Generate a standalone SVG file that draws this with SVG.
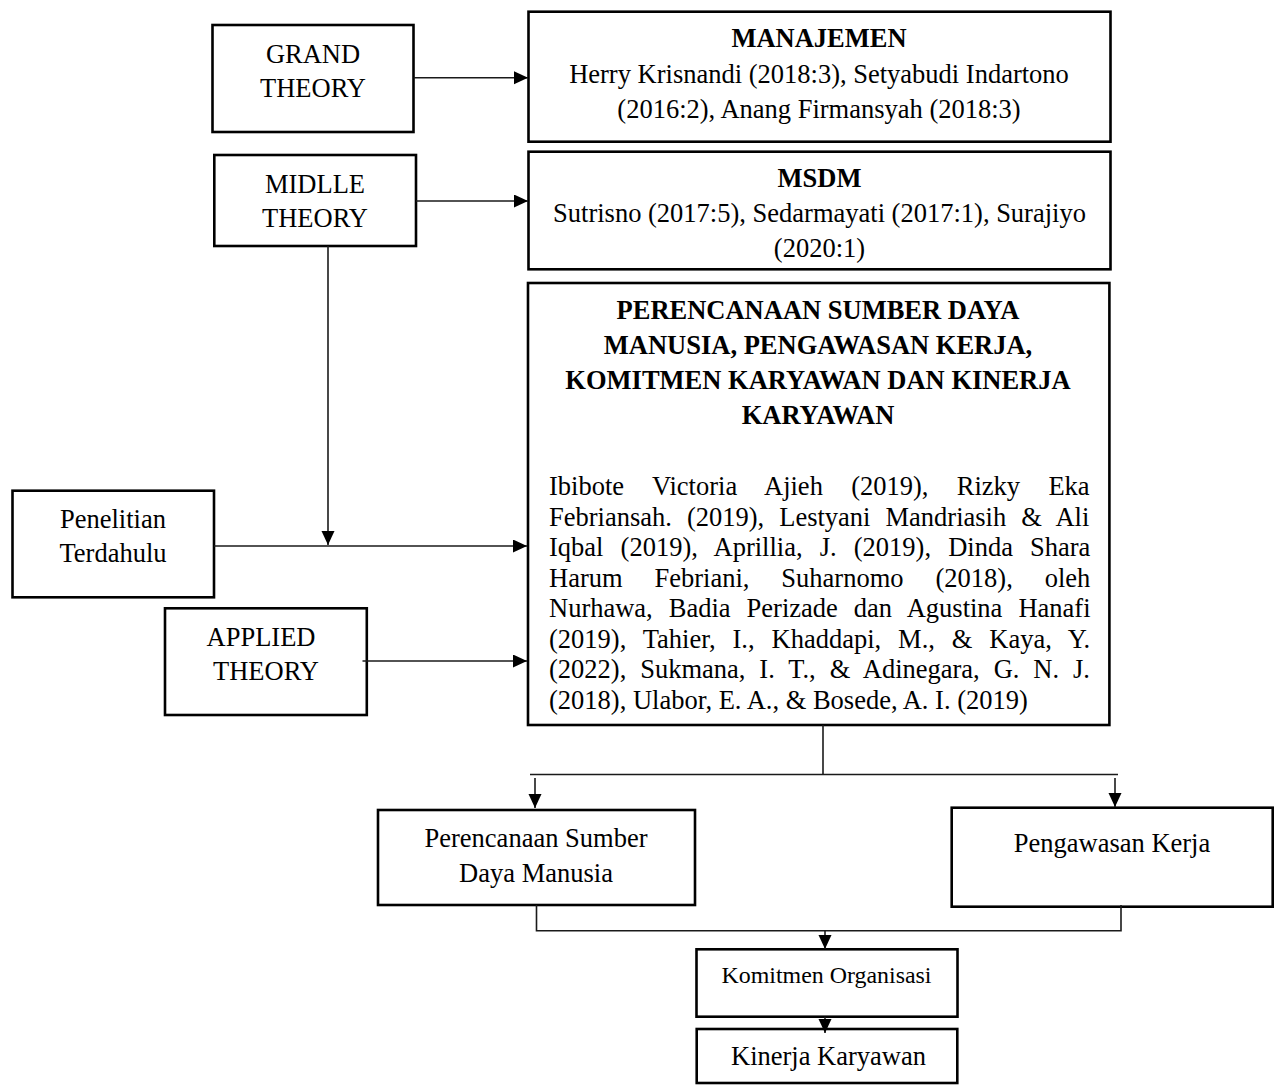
<svg xmlns="http://www.w3.org/2000/svg" width="1276" height="1086" viewBox="0 0 1276 1086">
<style>
.box{fill:#fff;stroke:#000;stroke-width:2.6}
.t{font-family:"Liberation Serif","Times New Roman",serif;font-size:26.5px;fill:#000}
.c{text-anchor:middle}
.b{font-weight:bold}
.con{fill:none;stroke:#1a1a1a;stroke-width:1.6}
</style>
<defs>
<marker id="ah" markerUnits="userSpaceOnUse" markerWidth="15" markerHeight="14" refX="14" refY="6.5" orient="auto">
<path d="M0,0 L14,6.5 L0,13 z" fill="#000"/>
</marker>
</defs>
<rect width="1276" height="1086" fill="#fff"/>

<g id="grand">
<rect class="box" x="212.5" y="25" width="201" height="107"/>
<text class="t c" x="313" y="62.7">GRAND</text>
<text class="t c" x="313" y="96.7">THEORY</text>
</g>
<g id="manajemen">
<rect class="box" x="528.5" y="11.7" width="582" height="130"/>
<text class="t c b" x="819" y="46.7">MANAJEMEN</text>
<text class="t c" x="819" y="82.7">Herry Krisnandi (2018:3), Setyabudi Indartono</text>
<text class="t c" x="819" y="118.3">(2016:2), Anang Firmansyah (2018:3)</text>
</g>
<g id="midlle">
<rect class="box" x="214.3" y="155" width="201.7" height="91"/>
<text class="t c" x="315" y="192.7">MIDLLE</text>
<text class="t c" x="315" y="226.7">THEORY</text>
</g>
<g id="msdm">
<rect class="box" x="528.5" y="151.7" width="582" height="117.6"/>
<text class="t c b" x="819.5" y="186.7">MSDM</text>
<text class="t c" x="819.5" y="221.7">Sutrisno (2017:5), Sedarmayati (2017:1), Surajiyo</text>
<text class="t c" x="819.5" y="256.7">(2020:1)</text>
</g>
<g id="main">
<rect class="box" x="528" y="283" width="581.4" height="442"/>
<text class="t c b" x="818" y="319">PERENCANAAN SUMBER DAYA</text>
<text class="t c b" x="818" y="354">MANUSIA, PENGAWASAN KERJA,</text>
<text class="t c b" x="818" y="388.5">KOMITMEN KARYAWAN DAN KINERJA</text>
<text class="t c b" x="818" y="424">KARYAWAN</text>
<text class="t" x="549" y="495" word-spacing="21.7">Ibibote Victoria Ajieh (2019), Rizky Eka</text>
<text class="t" x="549" y="525.5" word-spacing="8.4">Febriansah. (2019), Lestyani Mandriasih &amp; Ali</text>
<text class="t" x="549" y="556" word-spacing="10.5">Iqbal (2019), Aprillia, J. (2019), Dinda Shara</text>
<text class="t" x="549" y="586.5" word-spacing="25.3">Harum Febriani, Suharnomo (2018), oleh</text>
<text class="t" x="549" y="617" word-spacing="9.4">Nurhawa, Badia Perizade dan Agustina Hanafi</text>
<text class="t" x="549" y="647.5" word-spacing="10.3">(2019), Tahier, I., Khaddapi, M., &amp; Kaya, Y.</text>
<text class="t" x="549" y="678" word-spacing="7.3">(2022), Sukmana, I. T., &amp; Adinegara, G. N. J.</text>
<text class="t" x="549" y="708.5">(2018), Ulabor, E. A., &amp; Bosede, A. I. (2019)</text>
</g>
<g id="penelitian">
<rect class="box" x="12.5" y="490.7" width="201.5" height="106.6"/>
<text class="t c" x="113" y="528.3">Penelitian</text>
<text class="t c" x="113" y="561.7">Terdahulu</text>
</g>
<g id="applied">
<rect class="box" x="165" y="608.3" width="201.8" height="106.7"/>
<text class="t c" x="261" y="645.7">APPLIED</text>
<text class="t c" x="266" y="680">THEORY</text>
</g>
<g id="perencanaan">
<rect class="box" x="378" y="810" width="317" height="95"/>
<text class="t c" x="536" y="846.7">Perencanaan Sumber</text>
<text class="t c" x="536" y="881.7">Daya Manusia</text>
</g>
<g id="pengawasan">
<rect class="box" x="951.7" y="807.7" width="321" height="99"/>
<text class="t c" x="1112" y="851.7">Pengawasan Kerja</text>
</g>
<g id="komitmen">
<rect class="box" x="696.5" y="949.3" width="261" height="67.4"/>
<text class="t c" x="826.5" y="983.3" style="font-size:23px" textLength="210" lengthAdjust="spacingAndGlyphs">Komitmen Organisasi</text>
</g>
<g id="kinerja">
<rect class="box" x="696.7" y="1029" width="260.6" height="54"/>
<text class="t c" x="828.5" y="1065">Kinerja Karyawan</text>
</g>

<g id="connectors">
<line class="con" x1="413.6" y1="77.7" x2="528" y2="77.7" marker-end="url(#ah)"/>
<line class="con" x1="416" y1="201" x2="528" y2="201" marker-end="url(#ah)"/>
<line class="con" x1="328" y1="246" x2="328" y2="545" marker-end="url(#ah)"/>
<line class="con" x1="214" y1="546" x2="527" y2="546" marker-end="url(#ah)"/>
<line class="con" x1="362.5" y1="661" x2="527" y2="661" marker-end="url(#ah)"/>
<line class="con" x1="823" y1="725" x2="823" y2="774.5"/>
<line class="con" x1="530" y1="774.5" x2="1118" y2="774.5"/>
<line class="con" x1="535" y1="778" x2="535" y2="808" marker-end="url(#ah)"/>
<line class="con" x1="1115" y1="778" x2="1115" y2="807" marker-end="url(#ah)"/>
<polyline class="con" points="536.5,905 536.5,930.7 1121,930.7 1121,905"/>
<line class="con" x1="825" y1="930.7" x2="825" y2="949" marker-end="url(#ah)"/>
<line class="con" x1="825" y1="1016.7" x2="825" y2="1033" marker-end="url(#ah)"/>
</g>
</svg>
